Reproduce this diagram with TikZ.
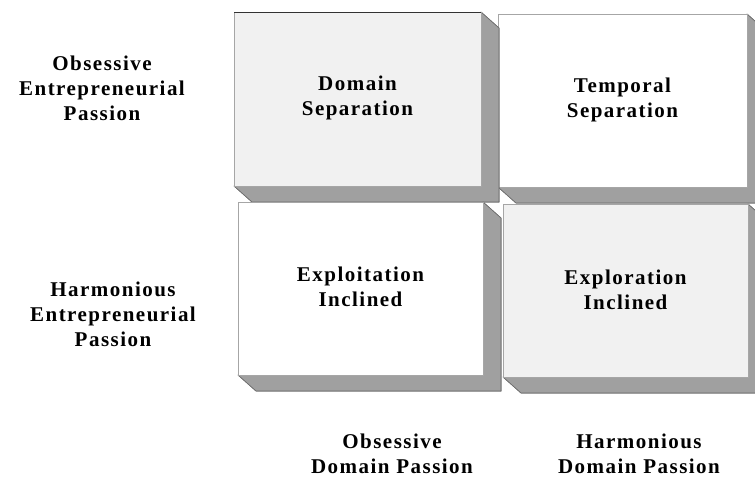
\documentclass[tikz,border=0pt]{standalone}
\usepackage{fontspec}
\setmainfont{Liberation Serif}
\usepackage{tikz}
\usetikzlibrary{positioning}
\usepackage{xcolor}

\definecolor{facegray}{HTML}{F1F1F1}
\definecolor{sidegray}{HTML}{A0A0A0}
\definecolor{edgegray}{HTML}{6A6A6A}

\tikzset{
  front/.style={draw=black!35,line width=0.6pt},
  side/.style={fill=sidegray,draw=edgegray,line width=0.6pt,line join=round},
  label/.style={align=center,font=\fontsize{21}{25}\selectfont\addfontfeatures{LetterSpace=7}\bfseries},
}

% box seen from the front, extruded to the lower right
\newcommand{\cellbox}[5]{%
  \fill[side] (#3,#2) -- ++(18,16) -- (#3+18,#4+16) -- (#3,#4) -- cycle;
  \fill[side] (#1,#4) -- (#3,#4) -- ++(18,16) -- (#1+18,#4+16) -- cycle;
  \draw[side] (#3,#2) -- ++(18,16) -- (#3+18,#4+16) -- (#1+18,#4+16) -- (#1,#4);
  \draw[front,fill=#5] (#1,#2) rectangle (#3,#4);
}

\begin{document}
\begin{tikzpicture}[x=1pt,y=-1pt]
      \clip (0,0) rectangle (755,477);
      \fill[white] (0,0) rectangle (755,477);
      \cellbox{498}{14}{747}{187}{white}
      \cellbox{234}{12}{481}{186}{facegray}
      \draw[black!80,line width=0.8pt] (234,12) -- (481,12);
      \cellbox{503}{204}{748}{377}{facegray}
      \cellbox{238}{202}{483}{375}{white}
      \node[label] (domsep) at (357.5,98) {Domain\\Separation};
      \node[label] (temsep) at (622.5,100) {Temporal\\Separation};
      \node[label] (exploit) at (360.5,287) {Exploitation\\Inclined};
      \node[label] (explore) at (625.5,290) {Exploration\\Inclined};
      \node[label] (obsent) at (102,88) {Obsessive\\Entrepreneurial\\Passion};
      \node[label] (harment) at (113,314) {Harmonious\\Entrepreneurial\\Passion};
      \node[label] (obsdom) at (392,454) {Obsessive\\Domain Passion};
      \node[label] (hardom) at (639,454) {Harmonious\\Domain Passion};
    \end{tikzpicture}
\end{document}
